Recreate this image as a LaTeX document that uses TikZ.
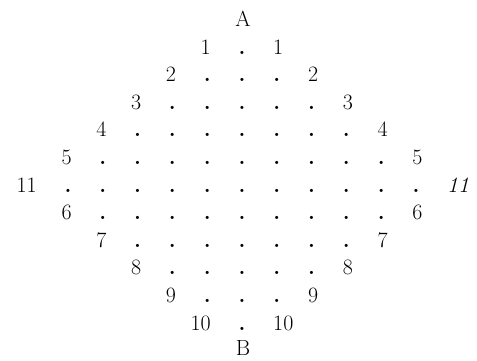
\documentclass[tikz,border=0pt]{standalone}
\usepackage{tikz}
\usetikzlibrary{positioning}

\begin{document}
\begin{tikzpicture}[x=1bp, y=-1bp, every node/.style={font=\fontsize{22}{26}\selectfont, inner sep=0pt}, dot/.style={anchor=base, font=\fontsize{22}{26}\selectfont\bfseries}, lbl/.style={anchor=base}]
\useasboundingbox (0,0) rectangle (477,360);
\node[lbl] (A) at (243,26.4) {A};
\foreach \r/\n/\lt/\rt in {1/0/1/1, 2/1/2/2, 3/2/3/3, 4/3/4/4, 5/4/5/5, 6/5/11/\textit{11}, 7/4/6/6, 8/3/7/7, 9/2/8/8, 10/1/9/9, 11/0/10/10} {
  \foreach \k in {-\n,...,\n}
    \node[dot] (d-\r-\k) at (242+34.8*\k, 26.4+27.6*\r) {.};
  \node[lbl, anchor=base east] (l-\r) at (242-34.8*\n-31, 26.4+27.6*\r) {\lt};
  \node[lbl, anchor=base west] (r-\r) at (242+34.8*\n+31, 26.4+27.6*\r) {\rt};
}
\node[lbl] (B) at (243,355) {B};
\end{tikzpicture}
\end{document}
